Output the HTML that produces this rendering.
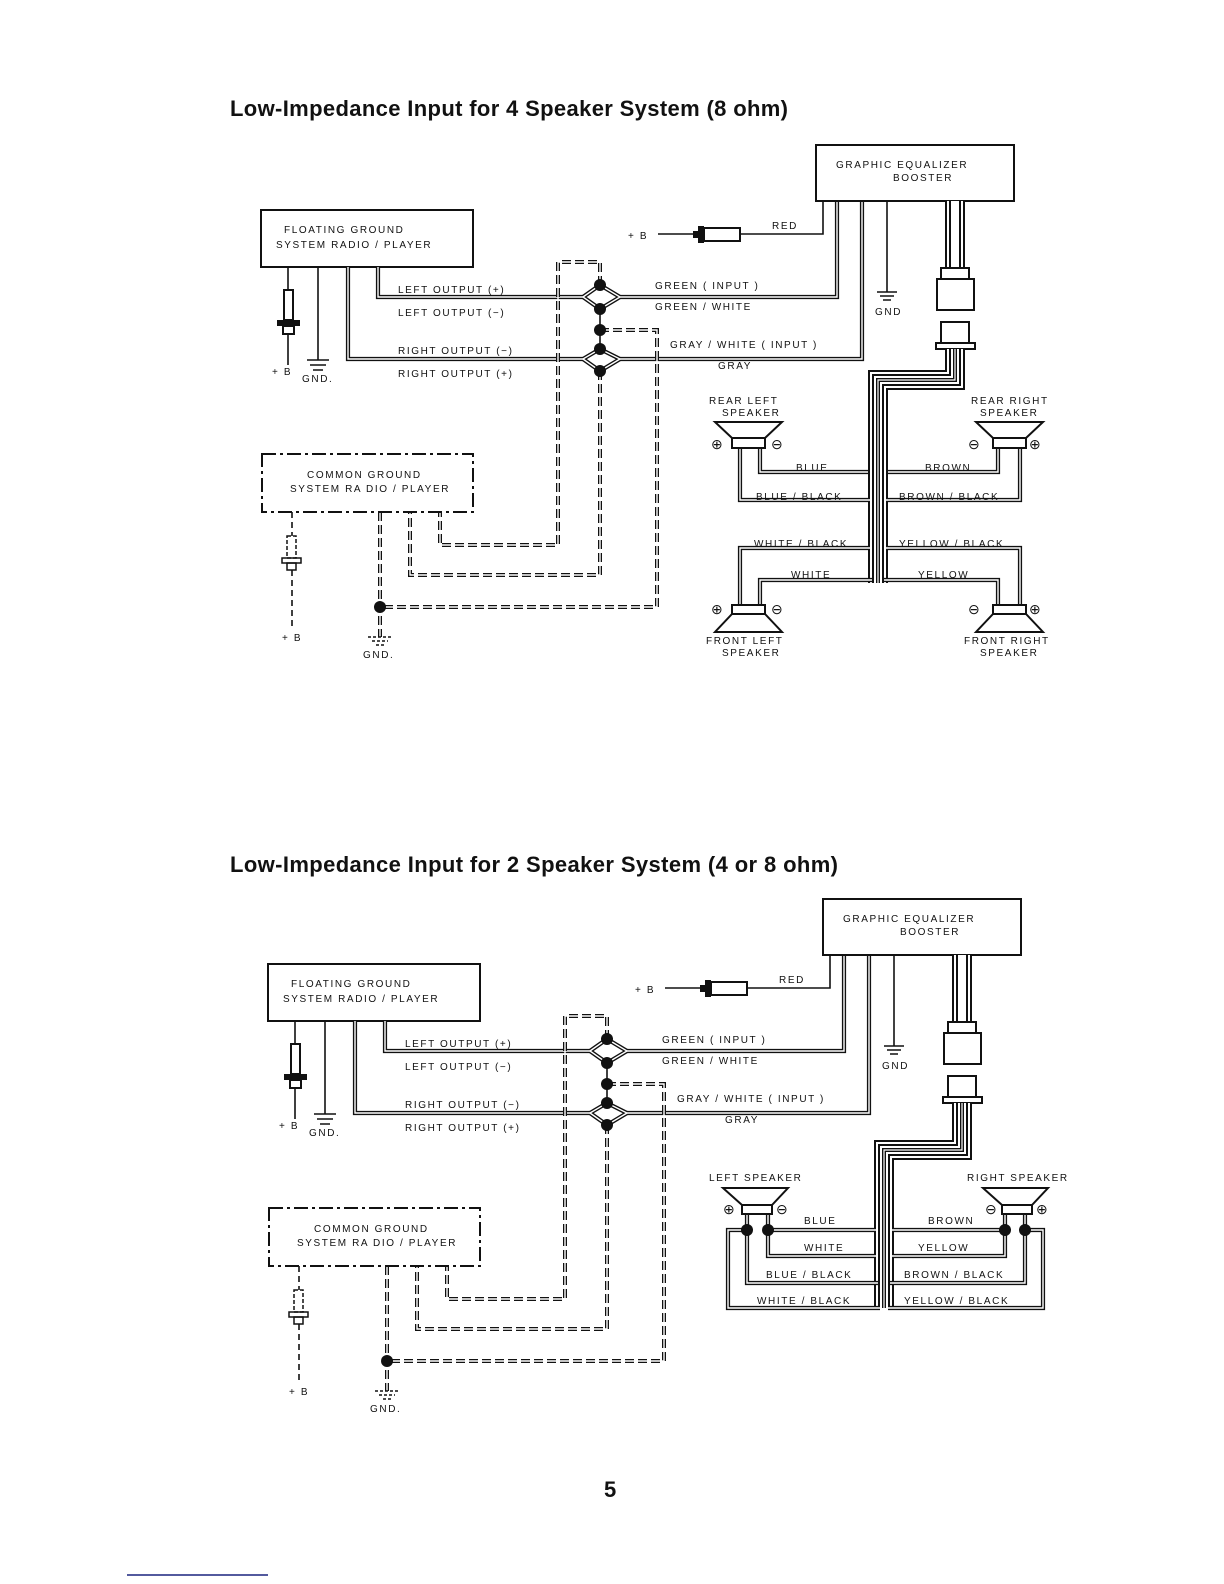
<!DOCTYPE html>
<html><head><meta charset="utf-8"><style>
html,body{margin:0;padding:0;background:#fff}
svg{display:block}
text{font-family:"Liberation Sans",sans-serif;font-size:10px;letter-spacing:1.6px;fill:#111}
.t{font-weight:bold;font-size:22px;letter-spacing:0}
.wb{fill:none;stroke:#111;stroke-width:4.2}
.wi{fill:none;stroke:#fff;stroke-width:1.4}
.db{fill:none;stroke:#111;stroke-width:4;stroke-dasharray:9 4}
.s{fill:none;stroke:#111;stroke-width:1.6}
.bx{fill:#fff;stroke:#111;stroke-width:2}
.bun1{fill:none;stroke:#111;stroke-width:20}
.bun2{fill:none;stroke:#fff;stroke-width:16}
.bun3{fill:none;stroke:#111;stroke-width:12}
.bun4{fill:none;stroke:#fff;stroke-width:8}
.bun5{fill:none;stroke:#111;stroke-width:4}
.bun6{fill:none;stroke:#fff;stroke-width:1.2}
</style></head><body>
<svg width="1224" height="1584" viewBox="0 0 1224 1584" xmlns="http://www.w3.org/2000/svg">
<defs>
<g id="shared">
  <rect class="bx" x="261" y="210" width="212" height="57"/>
  <text x="284" y="233">FLOATING GROUND</text>
  <text x="276" y="248">SYSTEM RADIO / PLAYER</text>
  <path class="s" d="M288,267 V290 M288,335 V365"/>
  <rect x="284" y="290" width="9" height="30" fill="#fff" stroke="#111" stroke-width="2"/>
  <rect x="277" y="320" width="23" height="6" fill="#111"/>
  <rect x="283" y="326" width="11" height="8" fill="#fff" stroke="#111" stroke-width="2"/>
  <text x="272" y="375">+ B</text>
  <path class="s" d="M318,267 V360" stroke-width="2"/>
  <path class="s" d="M307,360 H329 M310,365 H326 M313,370 H323" stroke-width="2"/>
  <text x="302" y="382">GND.</text>
  <path class="wb" d="M378,267 V297 H583 M348,267 V359 H583 M620,297 H837 V200 M620,359 H862 V200"/>
  <path class="wb" d="M583,297 L600,285 L620,297 L600,309 Z M583,359 L600,349 L620,359 L600,371 Z"/>
  <path class="wi" d="M378,267 V297 H583 M348,267 V359 H583 M620,297 H837 V200 M620,359 H862 V200"/>
  <path class="wi" d="M583,297 L600,285 L620,297 L600,309 Z M583,359 L600,349 L620,359 L600,371 Z"/>
  <text x="398" y="293">LEFT  OUTPUT  (+)</text>
  <text x="398" y="316">LEFT  OUTPUT  (−)</text>
  <text x="398" y="354">RIGHT  OUTPUT  (−)</text>
  <text x="398" y="377">RIGHT  OUTPUT  (+)</text>
  <text x="655" y="289">GREEN  ( INPUT )</text>
  <text x="655" y="310">GREEN / WHITE</text>
  <text x="670" y="348">GRAY / WHITE  ( INPUT )</text>
  <text x="718" y="369">GRAY</text>
  <path class="db" d="M600,285 V262 H558 V545 H440 V512 M600,371 V575 H410 V512 M600,330 H657 V607 H380 M380,512 V637"/>
  <path class="wi" d="M600,285 V262 H558 V545 H440 V512 M600,371 V575 H410 V512 M600,330 H657 V607 H380 M380,512 V637"/>
  <path class="s" d="M292,512 V536 M292,570 V630" stroke-dasharray="6 4"/>
  <path class="s" d="M600,309 V349" stroke-width="2"/>
  <circle cx="600" cy="285" r="6" fill="#111"/>
  <circle cx="600" cy="309" r="6" fill="#111"/>
  <circle cx="600" cy="330" r="6" fill="#111"/>
  <circle cx="600" cy="349" r="6" fill="#111"/>
  <circle cx="600" cy="371" r="6" fill="#111"/>
  <circle cx="380" cy="607" r="6" fill="#111"/>
  <rect x="262" y="454" width="211" height="58" fill="none" stroke="#111" stroke-width="2" stroke-dasharray="14 4 3 4"/>
  <text x="307" y="478">COMMON  GROUND</text>
  <text x="290" y="492">SYSTEM  RA DIO / PLAYER</text>
  <rect x="287" y="536" width="9" height="22" fill="#fff" stroke="#111" stroke-width="1.5" stroke-dasharray="4 2"/>
  <rect x="282" y="558" width="19" height="5" fill="none" stroke="#111" stroke-width="1.5"/>
  <rect x="287" y="563" width="9" height="7" fill="none" stroke="#111" stroke-width="1.5"/>
  <text x="282" y="641">+ B</text>
  <path class="s" d="M368,637 H392 M372,641 H388 M376,645 H384" stroke-dasharray="3 2"/>
  <text x="363" y="658">GND.</text>
  <rect class="bx" x="816" y="145" width="198" height="56"/>
  <text x="836" y="168">GRAPHIC  EQUALIZER</text>
  <text x="893" y="181">BOOSTER</text>
  <text x="628" y="239">+ B</text>
  <path class="s" d="M658,234 H693 M740,234 H823 V201"/>
  <rect x="698" y="226" width="6" height="17" fill="#111"/>
  <rect x="704" y="228" width="36" height="13" fill="#fff" stroke="#111" stroke-width="2"/>
  <rect x="693" y="231" width="6" height="7" fill="#111"/>
  <text x="772" y="229">RED</text>
  <path class="s" d="M887,201 V292" stroke-width="2"/>
  <path class="s" d="M877,292 H897 M880,296 H894 M883,300 H891" stroke-width="2"/>
  <text x="875" y="315">GND</text>
  <path class="bun1" d="M955,201 V268" stroke-width="16"/>
  <path class="bun2" d="M955,201 V268" stroke-width="12"/>
  <path class="bun3" d="M955,201 V268" stroke-width="8"/>
  <path class="bun4" d="M955,201 V268" stroke-width="4"/>
  <rect class="bx" x="941" y="268" width="28" height="11"/>
  <rect class="bx" x="937" y="279" width="37" height="31"/>
  <rect class="bx" x="941" y="322" width="28" height="21"/>
  <rect class="bx" x="936" y="343" width="39" height="6"/>
</g>
</defs>

<text class="t" x="230" y="116" textLength="558">Low-Impedance Input for 4 Speaker System (8 ohm)</text>
<use href="#shared"/>

<g>
<path class="bun1" d="M955,349 V380 H878 V583"/>
<path class="bun2" d="M955,349 V380 H878 V583"/>
<path class="bun3" d="M955,349 V380 H878 V583"/>
<path class="bun4" d="M955,349 V380 H878 V583"/>
<path class="bun5" d="M955,349 V380 H878 V583"/>
<path class="bun6" d="M955,349 V380 H878 V583"/>
</g>
<g>
<path class="wb" d="M760,448 V472 H868 M740,448 V500 H870 M998,448 V472 H888 M1020,448 V500 H886 M870,548 H740 V605 M872,580 H760 V605 M886,548 H1020 V605 M884,580 H998 V605"/>
<path class="wi" d="M760,448 V472 H868 M740,448 V500 H870 M998,448 V472 H888 M1020,448 V500 H886 M870,548 H740 V605 M872,580 H760 V605 M886,548 H1020 V605 M884,580 H998 V605"/>
</g>
<g fill="#fff" stroke="#111" stroke-width="2">
<polygon points="715,422 782,422 765,438 732,438"/><rect x="732" y="438" width="33" height="10"/>
<polygon points="976,422 1043,422 1026,438 993,438"/><rect x="993" y="438" width="33" height="10"/>
<rect x="732" y="605" width="33" height="9"/><polygon points="732,614 765,614 782,632 715,632"/>
<rect x="993" y="605" width="33" height="9"/><polygon points="993,614 1026,614 1043,632 976,632"/>
</g>
<g>
<text x="711" y="449" style="font-size:14px">⊕</text><text x="771" y="449" style="font-size:14px">⊖</text>
<text x="968" y="449" style="font-size:14px">⊖</text><text x="1029" y="449" style="font-size:14px">⊕</text>
<text x="711" y="614" style="font-size:14px">⊕</text><text x="771" y="614" style="font-size:14px">⊖</text>
<text x="968" y="614" style="font-size:14px">⊖</text><text x="1029" y="614" style="font-size:14px">⊕</text>
</g>
<text x="709" y="404">REAR  LEFT</text><text x="722" y="416">SPEAKER</text>
<text x="971" y="404">REAR  RIGHT</text><text x="980" y="416">SPEAKER</text>
<text x="796" y="471">BLUE</text><text x="756" y="500">BLUE / BLACK</text>
<text x="925" y="471">BROWN</text><text x="899" y="500">BROWN / BLACK</text>
<text x="754" y="547">WHITE / BLACK</text><text x="791" y="578">WHITE</text>
<text x="899" y="547">YELLOW / BLACK</text><text x="918" y="578">YELLOW</text>
<text x="706" y="644">FRONT  LEFT</text><text x="722" y="656">SPEAKER</text>
<text x="964" y="644">FRONT  RIGHT</text><text x="980" y="656">SPEAKER</text>

<text class="t" x="230" y="872" textLength="608">Low-Impedance Input for 2 Speaker System (4 or 8 ohm)</text>
<use href="#shared" transform="translate(7,754)"/>
<g>
<path class="bun1" d="M962,1103 V1150 H884 V1308"/>
<path class="bun2" d="M962,1103 V1150 H884 V1308"/>
<path class="bun3" d="M962,1103 V1150 H884 V1308"/>
<path class="bun4" d="M962,1103 V1150 H884 V1308"/>
<path class="bun5" d="M962,1103 V1150 H884 V1308"/>
<path class="bun6" d="M962,1103 V1150 H884 V1308"/>
</g>
<g>
<path class="wb" d="M747,1213 V1230 M768,1213 V1230 M768,1230 H876 M768,1230 V1256 H876 M747,1230 V1283 H878 M747,1230 H728 V1308 H880 M1005,1213 V1230 M1025,1213 V1230 M1005,1230 H892 M1005,1230 V1256 H892 M1025,1230 V1283 H890 M1025,1230 H1043 V1308 H888"/>
<path class="wi" d="M747,1213 V1230 M768,1213 V1230 M768,1230 H876 M768,1230 V1256 H876 M747,1230 V1283 H878 M747,1230 H728 V1308 H880 M1005,1213 V1230 M1025,1213 V1230 M1005,1230 H892 M1005,1230 V1256 H892 M1025,1230 V1283 H890 M1025,1230 H1043 V1308 H888"/>
</g>
<g fill="#fff" stroke="#111" stroke-width="2">
<polygon points="723,1188 788,1188 772,1205 742,1205"/><rect x="742" y="1205" width="30" height="9"/>
<polygon points="983,1188 1048,1188 1032,1205 1002,1205"/><rect x="1002" y="1205" width="30" height="9"/>
</g>
<circle cx="747" cy="1230" r="6" fill="#111"/><circle cx="768" cy="1230" r="6" fill="#111"/>
<circle cx="1005" cy="1230" r="6" fill="#111"/><circle cx="1025" cy="1230" r="6" fill="#111"/>
<text x="723" y="1214" style="font-size:14px">⊕</text><text x="776" y="1214" style="font-size:14px">⊖</text>
<text x="985" y="1214" style="font-size:14px">⊖</text><text x="1036" y="1214" style="font-size:14px">⊕</text>
<text x="709" y="1181">LEFT  SPEAKER</text><text x="967" y="1181">RIGHT  SPEAKER</text>
<text x="804" y="1224">BLUE</text><text x="928" y="1224">BROWN</text>
<text x="804" y="1251">WHITE</text><text x="918" y="1251">YELLOW</text>
<text x="766" y="1278">BLUE / BLACK</text><text x="904" y="1278">BROWN / BLACK</text>
<text x="757" y="1304">WHITE / BLACK</text><text x="904" y="1304">YELLOW / BLACK</text>

<text x="604" y="1497" style="font-size:22px;font-weight:bold;letter-spacing:0">5</text>
<line x1="127" y1="1575" x2="268" y2="1575" stroke="#1a237e" stroke-width="1.5"/>
</svg>
</body></html>
